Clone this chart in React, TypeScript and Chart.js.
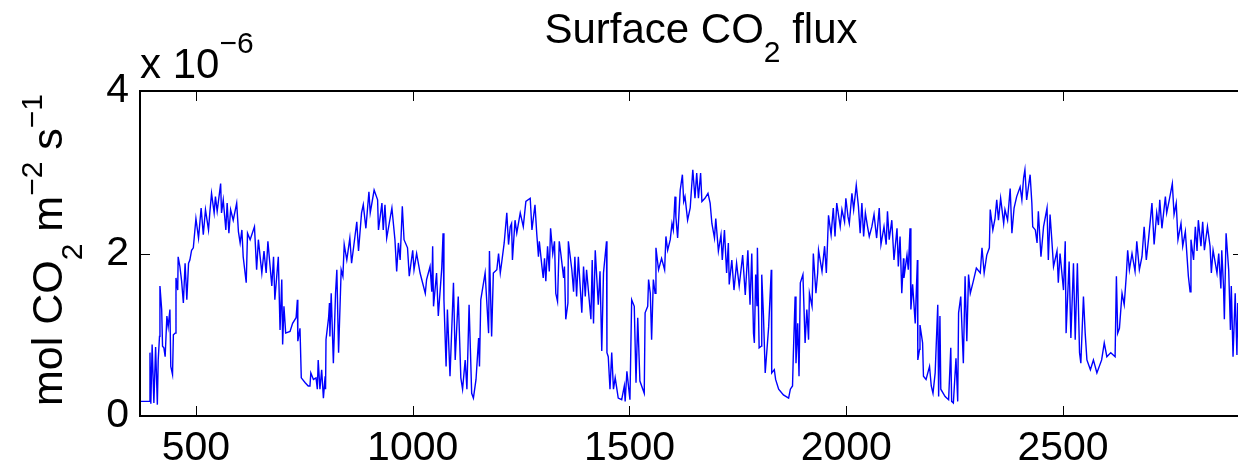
import React, { useEffect, useRef } from "react";
import { Chart, registerables } from "chart.js";

Chart.register(...registerables);

// Day of record
const DAYS = [
  371, 392, 394, 396, 399, 403, 407, 411, 413, 416, 417, 421, 423, 426, 429, 433, 436, 440, 442, 446,
  448, 452, 454, 458, 459, 463, 467, 471, 475, 479, 483, 486, 490, 494, 500, 506, 512, 517, 522, 529,
  532, 536, 542, 545, 549, 557, 559, 563, 569, 572, 576, 580, 586, 594, 598, 602, 606, 609, 616, 619,
  625, 635, 640, 644, 652, 657, 662, 666, 675, 679, 682, 690, 694, 698, 700, 703, 707, 717, 723, 731,
  734, 735, 740, 743, 752, 759, 763, 765, 771, 777, 780, 782, 786, 790, 794, 798, 799, 800, 806, 808,
  809, 812, 817, 822, 825, 829, 835, 839, 842, 848, 855, 859, 871, 875, 882, 886, 892, 899, 902, 911,
  919, 921, 929, 932, 936, 940, 952, 959, 963, 967, 971, 976, 980, 988, 992, 1000, 1003, 1009, 1017, 1029,
  1032, 1040, 1044, 1046, 1048, 1055, 1059, 1067, 1070, 1072, 1077, 1080, 1086, 1094, 1098, 1105, 1111, 1115, 1121, 1125,
  1130, 1136, 1140, 1146, 1152, 1154, 1157, 1167, 1175, 1177, 1182, 1186, 1194, 1198, 1202, 1205, 1211, 1217, 1221, 1225,
  1228, 1230, 1236, 1240, 1248, 1255, 1261, 1271, 1275, 1282, 1286, 1290, 1292, 1298, 1301, 1304, 1307, 1311, 1315, 1318,
  1323, 1327, 1330, 1334, 1338, 1342, 1348, 1350, 1353, 1358, 1359, 1367, 1371, 1374, 1378, 1382, 1390, 1394, 1398, 1401,
  1411, 1414, 1417, 1421, 1428, 1432, 1436, 1440, 1447, 1448, 1451, 1455, 1459, 1463, 1467, 1474, 1482, 1488, 1490, 1494,
  1501, 1505, 1511, 1515, 1519, 1524, 1534, 1536, 1542, 1544, 1548, 1551, 1555, 1559, 1561, 1567, 1574, 1581, 1584, 1588,
  1594, 1598, 1601, 1605, 1607, 1611, 1617, 1622, 1625, 1628, 1634, 1640, 1646, 1651, 1655, 1659, 1664, 1667, 1674, 1681,
  1686, 1690, 1696, 1699, 1705, 1711, 1714, 1719, 1724, 1728, 1730, 1736, 1741, 1747, 1753, 1761, 1767, 1773, 1778, 1782,
  1786, 1788, 1791, 1794, 1795, 1799, 1804, 1805, 1809, 1813, 1821, 1827, 1828, 1834, 1837, 1844, 1855, 1867, 1871, 1876,
  1878, 1882, 1884, 1888, 1891, 1894, 1900, 1905, 1909, 1913, 1915, 1921, 1924, 1930, 1934, 1936, 1944, 1950, 1954, 1957,
  1959, 1965, 1970, 1974, 1978, 1986, 1990, 1996, 1999, 2004, 2007, 2013, 2017, 2023, 2028, 2032, 2036, 2040, 2044, 2049,
  2053, 2059, 2064, 2070, 2076, 2080, 2087, 2092, 2095, 2099, 2105, 2110, 2117, 2120, 2124, 2128, 2132, 2133, 2140, 2143,
  2147, 2149, 2153, 2159, 2164, 2165, 2169, 2170, 2176, 2178, 2184, 2192, 2196, 2200, 2205, 2211, 2213, 2216, 2218, 2228,
  2236, 2241, 2243, 2247, 2253, 2257, 2259, 2264, 2270, 2274, 2278, 2282, 2286, 2293, 2300, 2309, 2313, 2318, 2324, 2330,
  2332, 2338, 2343, 2347, 2351, 2356, 2363, 2366, 2372, 2378, 2382, 2387, 2393, 2401, 2405, 2409, 2412, 2416, 2424, 2428,
  2430, 2436, 2440, 2443, 2449, 2455, 2463, 2466, 2470, 2474, 2478, 2486, 2489, 2493, 2501, 2505, 2507, 2514, 2518, 2524,
  2528, 2533, 2538, 2541, 2547, 2551, 2555, 2563, 2570, 2578, 2589, 2595, 2601, 2610, 2620, 2623, 2626, 2630, 2636, 2641,
  2646, 2649, 2653, 2659, 2666, 2670, 2676, 2682, 2687, 2692, 2697, 2705, 2710, 2716, 2720, 2723, 2728, 2736, 2739, 2745,
  2752, 2756, 2761, 2765, 2772, 2776, 2782, 2789, 2793, 2795, 2801, 2805, 2809, 2812, 2818, 2822, 2826, 2833, 2839, 2842,
  2846, 2855, 2859, 2864, 2866, 2870, 2872, 2876, 2882, 2886, 2888, 2892, 2897, 2901, 2903, 2906,
];

// Surface CO2 flux, in units of 1e-6 mol CO2 m^-2 s^-1
const FLUX = [
  0.18, 0.18, 0.78, 0.15, 0.88, 0.16, 0.85, 0.14, 0.69, 0.98, 1.6, 1.31, 0.86, 0.84, 0.73, 1.23, 1.1, 1.31, 0.61, 0.51,
  1.0, 1.02, 1.7, 1.55, 1.96, 1.84, 1.66, 1.39, 1.88, 1.43, 1.88, 1.92, 2.04, 2.07, 2.43, 2.19, 2.56, 2.23, 2.54, 2.29,
  2.5, 2.74, 2.5, 2.7, 2.52, 2.86, 2.5, 2.66, 2.29, 2.62, 2.25, 2.54, 2.41, 2.62, 2.27, 2.13, 2.29, 1.96, 1.64, 2.25,
  2.17, 2.33, 1.8, 2.17, 1.76, 2.03, 1.76, 2.15, 1.6, 1.96, 1.43, 1.96, 1.06, 1.68, 0.88, 1.35, 1.02, 1.04, 1.14, 1.21,
  1.43, 0.92, 1.08, 0.47, 0.41, 0.37, 0.37, 0.53, 0.45, 0.47, 0.33, 0.69, 0.33, 0.57, 0.22, 0.49, 0.33, 0.94, 1.21, 1.39,
  0.98, 1.51, 0.65, 1.51, 1.8, 0.78, 1.8, 1.72, 2.11, 1.92, 2.19, 1.88, 2.39, 2.03, 2.5, 2.6, 2.31, 2.76, 2.5, 2.78,
  2.66, 2.29, 2.62, 2.29, 2.6, 2.19, 2.56, 2.17, 1.78, 2.13, 1.92, 2.58, 2.17, 2.07, 1.72, 2.04, 1.8, 2.0, 1.76, 1.51,
  1.68, 1.84, 1.53, 2.09, 1.35, 1.76, 1.23, 1.82, 2.25, 1.43, 0.61, 1.31, 0.49, 1.64, 0.69, 1.47, 0.47, 0.33, 0.69, 0.33,
  1.37, 0.28, 0.22, 0.45, 0.96, 0.61, 1.43, 1.76, 1.02, 2.03, 0.98, 1.76, 1.8, 2.0, 1.76, 1.88, 2.13, 2.5, 2.11, 2.33,
  2.37, 1.92, 2.41, 2.25, 2.5, 2.33, 2.64, 2.68, 2.29, 2.6, 2.25, 1.96, 2.15, 1.84, 1.7, 1.94, 1.66, 2.09, 1.78, 2.31,
  2.0, 2.15, 1.51, 1.41, 2.15, 1.98, 1.7, 1.84, 1.19, 1.39, 2.15, 1.8, 1.53, 1.96, 1.47, 1.96, 1.27, 1.84, 1.47, 1.8,
  1.19, 1.92, 1.14, 2.04, 1.37, 1.78, 0.8, 1.76, 2.15, 0.78, 0.73, 0.33, 0.78, 0.33, 0.47, 0.22, 0.2, 0.37, 0.18, 0.55,
  0.2, 1.43, 1.35, 0.41, 1.21, 0.43, 0.28, 1.27, 1.35, 1.68, 1.51, 0.94, 1.68, 1.51, 2.07, 1.8, 1.94, 1.8, 2.21, 2.04,
  2.17, 2.37, 2.29, 2.7, 2.45, 2.19, 2.78, 2.97, 2.64, 2.7, 2.41, 2.56, 3.03, 2.68, 2.99, 2.68, 2.99, 2.64, 2.68, 2.74,
  2.62, 2.37, 2.19, 2.43, 2.03, 2.23, 1.92, 2.29, 1.76, 2.13, 1.62, 1.92, 1.55, 1.88, 1.6, 1.98, 1.49, 2.04, 1.37, 2.0,
  1.02, 0.9, 1.74, 1.35, 2.07, 0.84, 0.86, 1.74, 1.23, 0.53, 1.1, 1.8, 0.53, 0.57, 0.45, 0.33, 0.26, 0.22, 0.33, 0.37,
  0.78, 1.47, 0.65, 1.14, 0.49, 1.64, 1.74, 0.9, 1.31, 0.94, 1.51, 1.35, 2.0, 1.51, 1.76, 2.04, 1.78, 2.09, 1.76, 2.17,
  2.47, 2.23, 2.56, 2.21, 2.62, 2.33, 2.54, 2.39, 2.68, 2.45, 2.37, 2.74, 2.54, 2.84, 2.58, 2.25, 2.62, 2.21, 2.5, 2.33,
  2.21, 2.33, 2.48, 2.19, 2.56, 2.11, 2.33, 2.11, 2.52, 2.17, 2.41, 1.92, 2.31, 1.84, 2.21, 1.51, 1.94, 1.7, 1.98, 1.8,
  2.31, 1.31, 1.62, 1.14, 1.92, 0.69, 0.82, 1.12, 0.9, 0.49, 0.45, 0.61, 0.37, 0.28, 0.53, 1.37, 0.24, 1.23, 0.33, 0.24,
  0.2, 0.84, 0.18, 0.16, 0.71, 0.18, 1.27, 1.47, 0.65, 1.72, 0.92, 1.74, 1.51, 1.66, 1.82, 1.76, 2.07, 1.76, 1.98, 2.07,
  2.54, 2.29, 2.43, 2.66, 2.41, 2.68, 2.37, 2.54, 2.41, 2.8, 2.25, 2.56, 2.7, 2.82, 2.66, 2.93, 3.03, 2.66, 2.97, 2.62,
  2.33, 2.29, 2.13, 2.52, 1.96, 2.33, 2.56, 1.92, 2.48, 2.17, 1.84, 2.03, 1.64, 2.0, 1.55, 2.15, 1.02, 1.9, 0.96, 1.88,
  0.94, 1.88, 0.78, 0.65, 1.47, 1.02, 0.69, 0.57, 0.69, 0.53, 0.69, 0.9, 0.73, 0.78, 0.73, 1.72, 1.02, 1.08, 1.51, 1.37,
  1.74, 2.04, 1.8, 2.0, 1.78, 2.15, 1.8, 1.96, 2.33, 1.92, 2.17, 2.62, 2.11, 2.5, 2.35, 2.66, 2.31, 2.7, 2.5, 2.66,
  2.86, 2.48, 2.62, 2.17, 2.37, 2.09, 2.27, 1.72, 1.53, 2.17, 1.92, 2.33, 2.03, 2.41, 2.09, 2.39, 2.04, 2.33, 2.09, 1.76,
  2.04, 1.76, 2.0, 1.57, 2.04, 1.6, 1.19, 2.25, 1.8, 1.06, 1.6, 0.73, 1.51, 0.75, 1.39, 0.75,
];

const X_TICKS = [500, 1000, 1500, 2000, 2500];
const Y_TICKS = [0, 2, 4];
const X_MIN = 371;
const X_MAX = 2915;
const Y_MIN = 0;
const Y_MAX = 4;

const FONT = '"Liberation Sans", Arial, Helvetica, sans-serif';
const W = 1238;
const H = 472;
const CW = 1250;
const TICK = 10;

type Part = { t: string; size: number; dy: number };

function partsWidth(ctx: CanvasRenderingContext2D, parts: Part[]) {
  let w = 0;
  for (const p of parts) {
    ctx.font = `${p.size}px ${FONT}`;
    w += ctx.measureText(p.t).width;
  }
  return w;
}

function drawParts(ctx: CanvasRenderingContext2D, parts: Part[], x: number, y: number) {
  ctx.textAlign = "left";
  ctx.textBaseline = "alphabetic";
  let cx = x;
  for (const p of parts) {
    ctx.font = `${p.size}px ${FONT}`;
    ctx.fillText(p.t, cx, y + p.dy);
    cx += ctx.measureText(p.t).width;
  }
}

const overlay = {
  id: "matlabOverlay",
  afterDraw(chart: any) {
    const { ctx, chartArea: a, scales } = chart;
    const xs = scales.x;
    const ys = scales.y;
    ctx.save();
    ctx.strokeStyle = "#000";
    ctx.lineWidth = 2;
    ctx.strokeRect(a.left, a.top, a.right - a.left, a.bottom - a.top);
    ctx.lineWidth = 1;
    ctx.beginPath();
    for (const t of xs.ticks) {
      const px = Math.round(xs.getPixelForValue(t.value)) + 0.5;
      ctx.moveTo(px, a.bottom);
      ctx.lineTo(px, a.bottom - TICK);
      ctx.moveTo(px, a.top);
      ctx.lineTo(px, a.top + TICK);
    }
    for (const t of ys.ticks) {
      const py = Math.round(ys.getPixelForValue(t.value)) + 0.5;
      if (t.value === Y_MIN || t.value === Y_MAX) continue;
      ctx.moveTo(a.left, py);
      ctx.lineTo(a.left + TICK, py);
      ctx.moveTo(a.right, py);
      ctx.lineTo(a.right - TICK, py);
    }
    ctx.stroke();

    ctx.fillStyle = "#000";
    // Title
    const title: Part[] = [
      { t: "Surface CO", size: 42, dy: 0 },
      { t: "2", size: 30, dy: 19 },
      { t: " flux", size: 42, dy: 0 },
    ];
    const tw = partsWidth(ctx, title);
    drawParts(ctx, title, 701 - tw / 2, 43);

    // Exponent label
    const expo: Part[] = [
      { t: "x 10", size: 42, dy: 0 },
      { t: "\u22126", size: 30, dy: -25 },
    ];
    drawParts(ctx, expo, a.left, 78);

    // Y-axis label
    const ylab: Part[] = [
      { t: "mol CO", size: 43, dy: 0 },
      { t: "2", size: 30, dy: 20 },
      { t: " m", size: 43, dy: 0 },
      { t: "\u22122", size: 30, dy: -20 },
      { t: " s", size: 43, dy: 0 },
      { t: "\u22121", size: 30, dy: -20 },
    ];
    const lw = partsWidth(ctx, ylab);
    ctx.translate(62, 250);
    ctx.rotate(-Math.PI / 2);
    drawParts(ctx, ylab, -lw / 2, 0);
    ctx.restore();
  },
};

export default function App() {
  const ref = useRef<HTMLCanvasElement>(null);

  useEffect(() => {
    document.body.style.margin = "0";
    const canvas = ref.current!;
    const points = DAYS.map((d, i) => ({ x: d, y: FLUX[i] }));
    const chart = new Chart(canvas, {
      type: "line",
      data: {
        datasets: [
          {
            data: points,
            borderColor: "#0000ff",
            borderWidth: 1.4,
            pointRadius: 0,
            tension: 0,
            fill: false,
          },
        ],
      },
      options: {
        animation: false,
        responsive: false,
        devicePixelRatio: 1,
        layout: { padding: { left: 0, right: CW - 1243, top: 91, bottom: 0 } },
        plugins: {
          legend: { display: false },
          title: { display: false },
          tooltip: { enabled: false },
        },
        scales: {
          x: {
            type: "linear",
            min: X_MIN,
            max: X_MAX,
            afterBuildTicks: (s: any) => {
              s.ticks = X_TICKS.map((v) => ({ value: v }));
            },
            afterFit: (s: any) => {
              s.height = H - 416;
            },
            grid: { display: false, drawTicks: false },
            border: { display: false },
            ticks: {
              color: "#000",
              font: { family: FONT, size: 41 },
              padding: 8,
              maxRotation: 0,
              autoSkip: false,
              callback: (v: any) => String(v),
            },
          },
          y: {
            type: "linear",
            min: Y_MIN,
            max: Y_MAX,
            afterBuildTicks: (s: any) => {
              s.ticks = Y_TICKS.map((v) => ({ value: v }));
            },
            afterFit: (s: any) => {
              s.width = 140;
            },
            grid: { display: false, drawTicks: false },
            border: { display: false },
            ticks: {
              color: "#000",
              font: { family: FONT, size: 41 },
              padding: 11,
              autoSkip: false,
              callback: (v: any) => String(v),
            },
          },
        },
      },
      plugins: [overlay],
    });
    return () => chart.destroy();
  }, []);

  return (
    <div
      style={{
        position: "absolute",
        left: 0,
        top: 0,
        width: W,
        height: H,
        overflow: "hidden",
        background: "#fff",
      }}
    >
      <canvas ref={ref} width={CW} height={H} style={{ width: CW, height: H, display: "block" }} />
    </div>
  );
}
